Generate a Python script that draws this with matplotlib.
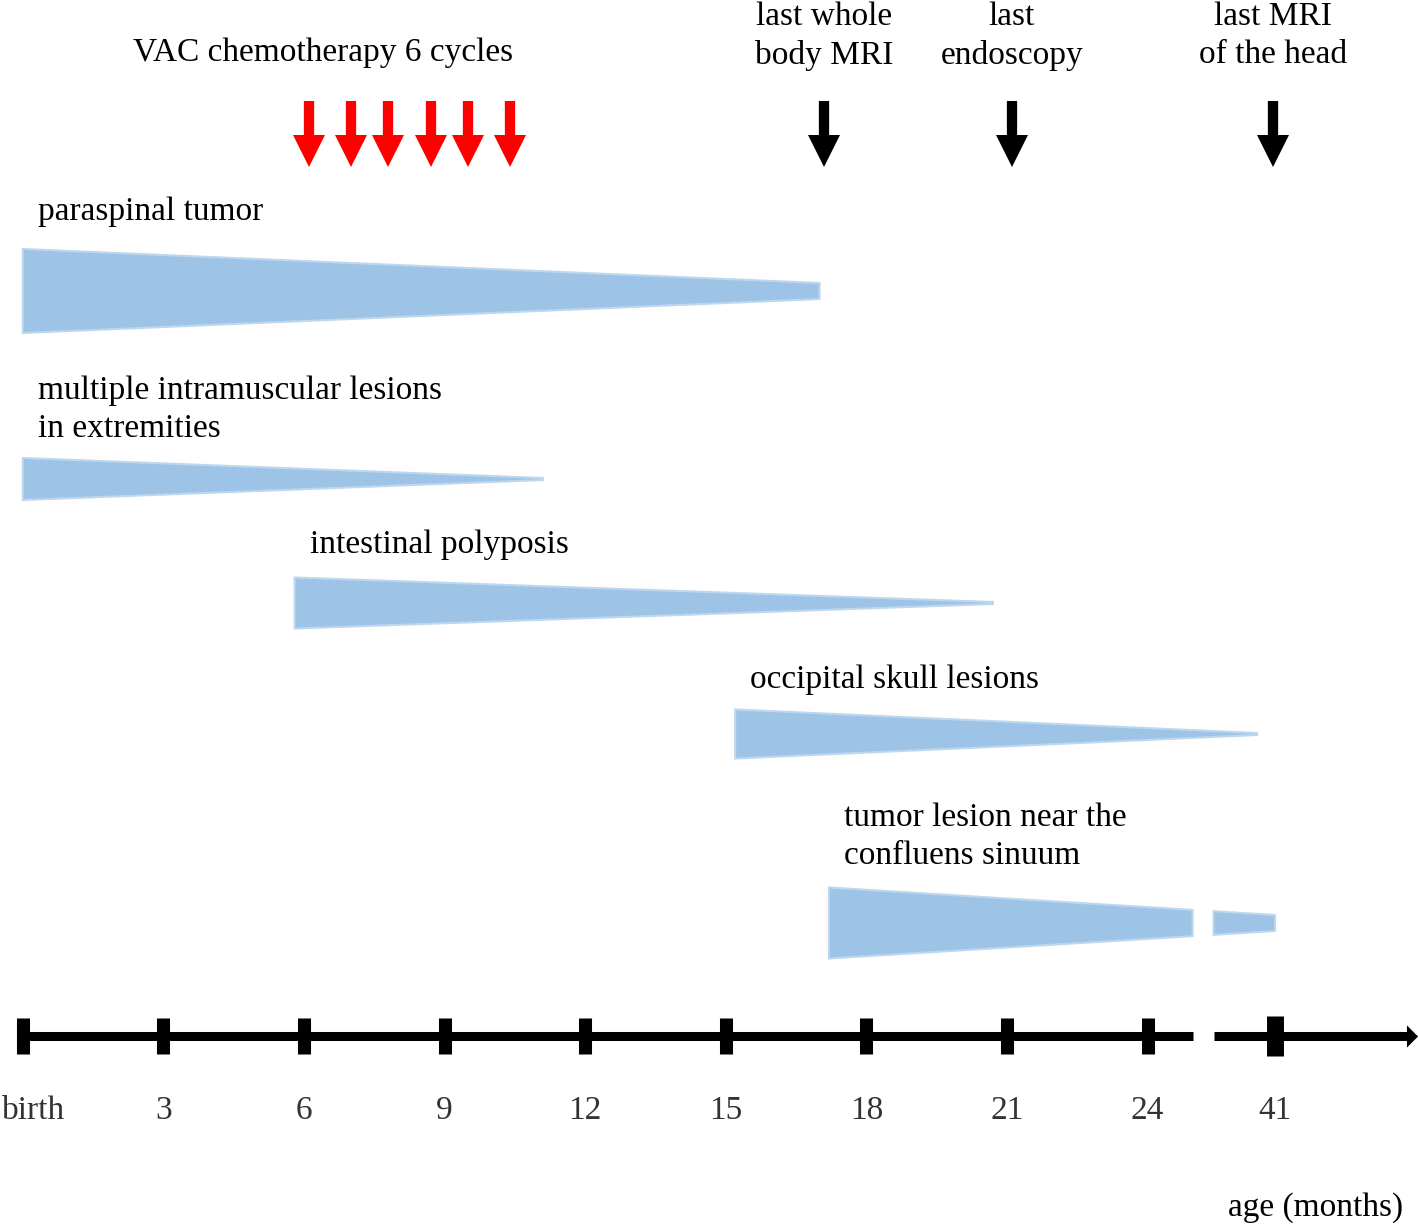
import numpy as np
import matplotlib
matplotlib.use("Agg")
import matplotlib.pyplot as plt
from matplotlib.patches import Polygon

plt.rcParams['font.family'] = ['Liberation Serif', 'DejaVu Serif']

# ---- data (months) ----
tick_months = [0, 3, 6, 9, 12, 15, 18, 21, 24, 41]
tick_labels = ['birth', '3', '6', '9', '12', '15', '18', '21', '24', '41']

chemo_months = [6.1, 7.0, 7.8, 8.7, 9.5, 10.4]
exam_months = [17.1, 21.1, 40.7]
exam_labels = ['last whole\nbody MRI', 'last\nendoscopy', 'last MRI\nof the head']

lesion_names = ['paraspinal tumor',
                'multiple intramuscular lesions\nin extremities',
                'intestinal polyposis',
                'occipital skull lesions',
                'tumor lesion near the\nconfluens sinuum']
lesion_start = [0, 0, 5.8, 15.2, 17.2]
lesion_end = [17.0, 11.1, 20.7, 38.6, 41]

# ---- layout ----
K = 0.16            # compression of the axis after 24 months
BREAK = (30.0, 32.8)
AXIS_END = 59.3
row_y = [291, 479, 603, 734, 923]
h_start = [84, 42, 51, 49, 71]
h_end = [16, 2, 2, 2, 16]
label_y = [212, 410, 545, 680, 837]
broken_row = 4
wedge_fc = '#9dc3e6'
wedge_ec = '#bdd7ee'
axis_y = 1036
LS = 1.32


def fwd(m):
    m = np.asarray(m, dtype=float)
    return np.where(m <= 24, m, 24 + (m - 24) * K)


def inv(p):
    p = np.asarray(p, dtype=float)
    return np.where(p <= 24, p, 24 + (p - 24) / K)


def wedge(ax, m0, m1, y, h0, h1):
    pts = [(m0, y - h0 / 2), (m1, y - h1 / 2), (m1, y + h1 / 2), (m0, y + h0 / 2)]
    ax.add_patch(Polygon(pts, closed=True, fc=wedge_fc, ec=wedge_ec, lw=1.5))


fig = plt.figure(figsize=(14.18, 12.26), dpi=100)
ax = fig.add_axes([0, 0, 1, 1])
ax.set_xscale('function', functions=(fwd, inv))
ax.set_xlim(-0.487, 60.06)
ax.set_ylim(1226, 0)
ax.axis('off')

# lesion wedges
for i in range(len(lesion_names)):
    m0, m1 = lesion_start[i], lesion_end[i]
    h0, h1 = h_start[i], h_end[i]
    if i == broken_row:
        p0, p1 = fwd(m0), fwd(m1)
        hb = [h0 + (h1 - h0) * (fwd(b) - p0) / (p1 - p0) for b in BREAK]
        wedge(ax, m0, BREAK[0], row_y[i], h0, hb[0])
        wedge(ax, BREAK[1], m1, row_y[i], hb[1], h1)
    else:
        wedge(ax, m0, m1, row_y[i], h0, h1)
    ax.annotate(lesion_names[i], (m0, label_y[i]), xytext=(11, 0),
                textcoords='offset points', ha='left', va='center',
                fontsize=24, linespacing=LS)

# chemo arrows (red) and exam arrows (black)
for xs, col in [(chemo_months, 'red'), (exam_months, 'black')]:
    ax.vlines(xs, 101, 136, colors=col, lw=7.4, capstyle='butt')
    ax.plot(xs, [150.5] * len(xs), ls='none', marker='v', ms=23,
            color=col, mew=0)

ax.text(6.4, 53, 'VAC chemotherapy 6 cycles', ha='center', va='center',
        fontsize=24)
for m, lab in zip(exam_months, exam_labels):
    ax.text(m, 36, lab, ha='center', va='center', fontsize=24,
            linespacing=LS)

# time axis
ax.plot([tick_months[0], BREAK[0]], [axis_y, axis_y], color='black', lw=6.5,
        solid_capstyle='butt')
ax.plot([BREAK[1], AXIS_END], [axis_y, axis_y], color='black', lw=6.5,
        solid_capstyle='butt')
head = [(-0.5, 1), (-0.5, -1), (0.5, 0)]
ax.plot([AXIS_END], [axis_y], ls='none', marker=head, ms=16, color='black',
        mew=0)
ax.vlines(tick_months[:-1], 1018, 1054, colors='black', lw=9.4,
          capstyle='butt')
ax.vlines(tick_months[-1:], 1016, 1056, colors='black', lw=12.2,
          capstyle='butt')
for m, lab in zip(tick_months, tick_labels):
    dx = 8 if m == 0 else 0
    ax.annotate(lab, (m, 1111), xytext=(dx, 0), textcoords='offset points',
                ha='center', va='center', fontsize=24, color='#333333')

ax.text(58.1, 1208, 'age (months)', ha='right', va='center', fontsize=24)

fig.savefig('out.png', dpi=100)
